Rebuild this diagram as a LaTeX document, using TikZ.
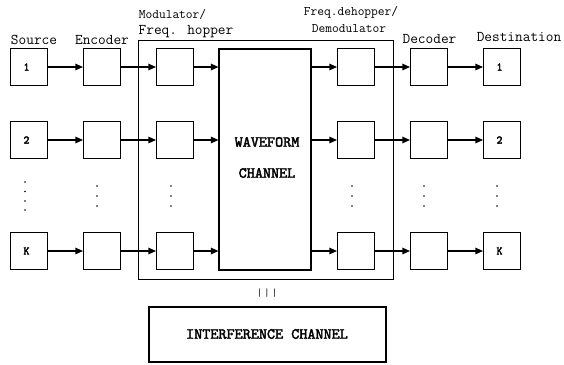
\documentclass[tikz,border=0pt]{standalone}
\usepackage{fontspec}
\newfontfamily\ttbold{lmmono10-regular.otf}[FakeBold=2.5]
\usetikzlibrary{arrows.meta}
\tikzset{
  blk/.style={draw, line width=1.1pt, minimum width=37pt, minimum height=37pt, inner sep=0pt, font=\ttbold\fontsize{11.5}{13}\selectfont},
  big/.style={draw, line width=1.0pt, inner sep=0pt},
  lbl/.style={inner sep=0pt, font=\ttfamily\fontsize{14.9}{17}\selectfont},
  slbl/.style={inner sep=0pt, font=\ttfamily\fontsize{13.1}{15}\selectfont},
  btxt/.style={inner sep=0pt, font=\ttbold\fontsize{15.4}{17}\selectfont},
  arr/.style={-{Triangle[length=7.5pt,width=6.5pt]}, line width=1.2pt},
  dotc/.style={circle, fill, inner sep=0pt, minimum size=1.7pt}
}
\begin{document}
\begin{tikzpicture}[x=1pt,y=-1pt]
\useasboundingbox (0,0) rectangle (564,364);
% big boxes
\node[big, minimum width=255pt, minimum height=239pt] (outer) at (265.5,159.5) {};
\node[big, line width=1.1pt, minimum width=92pt, minimum height=221pt] (wave) at (265,159.5) {};
\node[btxt] (wt1) at (267,142) {WAVEFORM};
\node[btxt] (wt2) at (267,173) {CHANNEL};
\node[big, line width=1.1pt, minimum width=237pt, minimum height=55pt] (intf) at (267.5,334.5) {};
\node[btxt] (it) at (267,334) {INTERFERENCE CHANNEL};
\node[inner sep=0pt, font=\ttfamily\fontsize{11}{12}\selectfont] (eq) at (267,293) {|\,|\,|};
% labels
\node[lbl] (lsrc) at (34,40) {Source};
\node[lbl] (lenc) at (102,40) {Encoder};
\node[slbl] (lmod) at (172.5,14) {Modulator/};
\node[lbl] (lfh) at (186,32) {Freq. hopper};
\node[slbl] (lfd) at (351,12) {Freq.dehopper/};
\node[slbl] (ldm) at (349,29) {Demodulator};
\node[lbl] (ldec) at (429.5,39) {Decoder};
\node[lbl] (ldst) at (519,37) {Destination};
% rows
\foreach \r/\y/\t in {1/67/1, 2/140/2, k/251/K}{
  \node[blk] (s\r) at (29,\y) {\hspace{-5pt}\t};
  \node[blk] (e\r) at (102,\y) {};
  \node[blk] (m\r) at (175,\y) {};
  \node[blk] (d\r) at (356,\y) {};
  \node[blk] (c\r) at (429,\y) {};
  \node[blk] (t\r) at (502,\y) {\hspace{-5pt}\t};
  \draw[arr] (s\r) -- (e\r);
  \draw[arr] (e\r) -- (m\r);
  \draw[arr] (m\r) -- (wave.west |- m\r);
  \draw[arr] (wave.east |- d\r) -- (d\r);
  \draw[arr] (d\r) -- (c\r);
  \draw[arr] (c\r) -- (t\r);
}
% dots
\foreach \y [count=\i] in {182,191.5,201,210}{ \node[dotc] (ds\i) at (25,\y) {}; }
\foreach \x/\n in {97/e,171/m,352/d,424/c,497/t}{
  \foreach \y [count=\i] in {186,196,206}{ \node[dotc] (d\n\i) at (\x,\y) {}; }
}
\end{tikzpicture}
\end{document}
